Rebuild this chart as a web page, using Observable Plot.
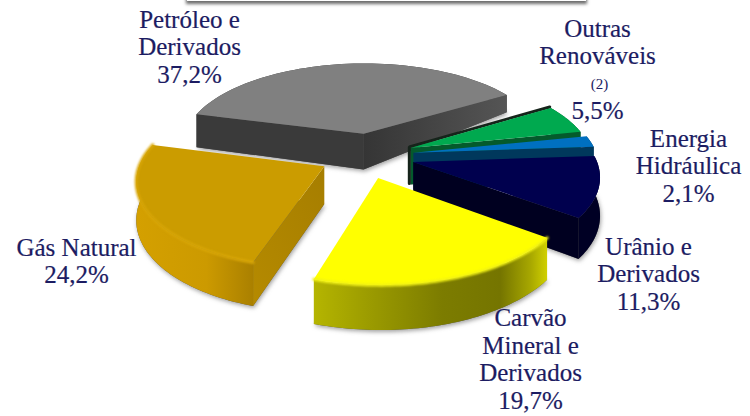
<!DOCTYPE html>
<html>
<head>
<meta charset="utf-8">
<script src="https://cdn.jsdelivr.net/npm/d3@7"></script>
<script src="https://cdn.jsdelivr.net/npm/@observablehq/plot@0.6"></script>
<style>
html,body{margin:0;padding:0;background:#fff;overflow:hidden}
#wrap{position:relative;width:750px;height:416px}
#banner{position:absolute;left:187px;top:-10px;width:399px;height:11px;background:#fff;box-shadow:0 2px 3px 1px rgba(60,60,60,.75)}
svg{display:block;position:absolute;left:0;top:0;background:transparent!important}
</style>
</head>
<body>
<div id="wrap"><div id="banner"></div></div>
<script>
// Data
const categories = ["Petróleo e\nDerivados", "Outras\nRenováveis", "Energia\nHidráulica", "Urânio e\nDerivados", "Carvão\nMineral e\nDerivados", "Gás Natural"];
const shares = [37.2, 5.5, 2.1, 11.3, 19.7, 24.2];
const shareLabels = ["37,2%", "5,5%", "2,1%", "11,3%", "19,7%", "24,2%"];

// Layout of labels and of the perspective view
const labelX = [189, 597, 688, 648, 530, 76];
const labelY = [46, 41, 165, 273, 358, 260];
const noteRow = [{x: 599, y: 84, t: "(2)"}];
const valueRow = {x: 597, y: 110};
const explode = [0.27, 0.25, 0.25, 0.27, 0.27, 0.26];
const radius = [1.02, 1, 1.01, 1, 1.01, 1];
const nudgeX = [2, 0, 0, -3, -6, -2];
const drawOrder = [0, 1, 2, 3, 5, 4];
const startDeg = -75.3;
const view = {x0: 368, y0: 155, R: 182, A: 84.3, b: 0.139, H: 37};

const topFill = ["#808080", "#00a94f", "#0070c0", "#00004e", "#ffff00", "#cb9c00"];
const arcFill = ["#3a3a3a", "#005a2a", "#003a60", "#000024", "url(#gArcY)", "url(#gArcG)"];
const startFace = ["#3a3a3a", null, null, null, null, "url(#gCutG)"];
const endFace = ["url(#gEndP)", "#045a2c", "#00385c", "#000020", null, null];
const rimColor = [null, null, null, null, "#f2f214", "#d8a606"];

const rad = d => d * Math.PI / 180;
function project(X, Yf, lowered, nudge) {
  const s = 1 / (1 - view.b * Yf);
  const shrink = Math.max(0.45, Math.min(1, 1 - (-0.5 - Yf) * 1.6));
  return {
    x: view.x0 + view.R * X * s + (nudge || 0),
    y: view.y0 + view.A * Yf * s + (lowered ? view.H * s * shrink : 0)
  };
}
let acc = startDeg;
const slices = shares.map((v, i) => {
  const a0 = acc, a1 = acc + v * 3.6; acc = a1;
  const mid = rad((a0 + a1) / 2), e = explode[i], r = radius[i];
  const ox = Math.sin(mid) * e, oy = -Math.cos(mid) * e;
  const rim = d3.range(0, 61).map(k => {
    const a = rad(a0 + (a1 - a0) * k / 60);
    return [ox + r * Math.sin(a), oy - r * Math.cos(a)];
  });
  return {i, ox, oy, rim};
});

const marks = [];
for (const i of drawOrder) {
  const {ox, oy, rim} = slices[i];
  const pts = (list, low) => list.map(p => project(p[0], p[1], low, nudgeX[i]));
  const apex = [ox, oy], first = rim[0], last = rim[rim.length - 1];
  const soft = "drop-shadow(1.5px 2px 2px rgba(70,70,70,.5))";
  marks.push(Plot.line([...pts([apex, first], true), ...pts(rim, true), ...pts([last, apex], true)], {x: "x", y: "y", fill: "#555", stroke: "none", imageFilter: soft}));
  marks.push(Plot.line([...pts(rim, false), ...pts(rim, true).reverse()], {x: "x", y: "y", fill: arcFill[i], stroke: "none"}));
  if (startFace[i]) marks.push(Plot.line([...pts([apex, first], false), ...pts([first, apex], true)], {x: "x", y: "y", fill: startFace[i], stroke: "none"}));
  if (endFace[i]) marks.push(Plot.line([...pts([apex, last], false), ...pts([last, apex], true)], {x: "x", y: "y", fill: endFace[i], stroke: "none"}));
  if (i === 1) {
    marks.push(Plot.line([...pts([first, apex], false), ...pts([apex], true)],
      {x: d => d.x - 1, y: d => d.y - 1, stroke: "#16241b", strokeWidth: 3, strokeLinejoin: "miter"}));
  }
  marks.push(Plot.line(pts([apex, ...rim], false), {x: "x", y: "y", fill: topFill[i], stroke: "none"}));
  if (rimColor[i]) {
    marks.push(Plot.line(pts(rim, false), {x: "x", y: "y", stroke: rimColor[i], strokeWidth: 3, imageFilter: "blur(1.2px)"}));
  }
}
const labelRows = categories.map((c, i) => ({x: labelX[i], y: labelY[i], t: c + "\n" + shareLabels[i]}));
const textStyle = {fontFamily: "Liberation Serif", fontSize: 25, lineHeight: 1.1, fill: "#1c1c62", stroke: "#1c1c62", strokeWidth: 0.2};
marks.push(Plot.text(labelRows.filter((d, i) => i !== 1), {x: "x", y: "y", text: "t", textAnchor: "middle", lineAnchor: "middle", ...textStyle}));
marks.push(Plot.text([{x: labelX[1], y: labelY[1], t: categories[1]}], {x: "x", y: "y", text: "t", textAnchor: "middle", lineAnchor: "middle", ...textStyle}));
marks.push(Plot.text(noteRow, {x: "x", y: "y", text: "t", fontFamily: "Liberation Serif", fontSize: 15, fill: "#1c1c62"}));
marks.push(Plot.text([{...valueRow, t: shareLabels[1]}], {x: "x", y: "y", text: "t", ...textStyle}));

const chart = Plot.plot({
  width: 750, height: 416, margin: 0,
  x: {domain: [0, 750], range: [0, 750], axis: null},
  y: {domain: [0, 416], range: [0, 416], axis: null},
  style: {background: "transparent", overflow: "visible"},
  marks
});
const defs = document.createElementNS("http://www.w3.org/2000/svg", "defs");
const stops = l => l.map(([o, c]) => `<stop offset="${o}" stop-color="${c}"/>`).join("");
defs.innerHTML =
  `<linearGradient id="gArcY" x1="0" x2="1" y1="0" y2="0">${stops([[0,"#b5b500"],[.25,"#9a9a00"],[.55,"#7c7c00"],[.8,"#757500"],[.93,"#a8a800"],[1,"#d0d000"]])}</linearGradient>
   <linearGradient id="gArcG" x1="0" x2="1" y1="0" y2="0">${stops([[0,"#d4a000"],[.6,"#cc9a00"],[1,"#aa8000"]])}</linearGradient>
   <linearGradient id="gCutG" x1="0" x2="1" y1="1" y2="0">${stops([[0,"#b58a00"],[1,"#a67e00"]])}</linearGradient>
   <linearGradient id="gEndP" x1="0" x2="1" y1="0" y2="0">${stops([[0,"#353535"],[1,"#555555"]])}</linearGradient>`;
chart.insertBefore(defs, chart.firstChild);
document.getElementById("wrap").appendChild(chart);
</script>
</body>
</html>
